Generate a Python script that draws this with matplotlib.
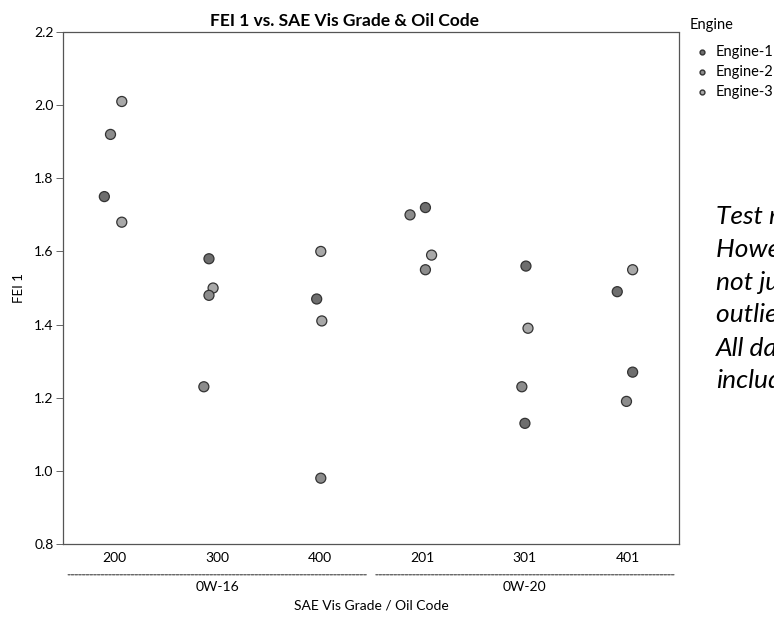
import matplotlib
matplotlib.use("Agg")
import matplotlib.pyplot as plt
import numpy as np

plt.rcParams["font.family"] = ["Lato", "DejaVu Sans"]

# categories and groups
codes = ["200", "300", "400", "201", "301", "401"]
groups = ["0W-16", "0W-20"]
group_of = [0, 0, 0, 1, 1, 1]

# FEI 1 values, 4 per oil code
code_idx = [0, 0, 0, 0, 1, 1, 1, 1, 2, 2, 2, 2,
            3, 3, 3, 3, 4, 4, 4, 4, 5, 5, 5, 5]
fei = [2.01, 1.92, 1.75, 1.68,
       1.58, 1.50, 1.48, 1.23,
       1.60, 1.47, 1.41, 0.98,
       1.70, 1.72, 1.59, 1.55,
       1.56, 1.39, 1.23, 1.13,
       1.55, 1.49, 1.27, 1.19]
engine = [3, 2, 1, 3,
          1, 3, 2, 2,
          3, 1, 3, 2,
          2, 1, 3, 2,
          1, 3, 2, 1,
          3, 1, 1, 2]
# horizontal jitter as seen on the chart
jitter = [0.07, -0.04, -0.10, 0.07,
          -0.08, -0.04, -0.08, -0.13,
          0.01, -0.03, 0.02, 0.01,
          -0.12, 0.03, 0.09, 0.03,
          0.01, 0.03, -0.03, 0.00,
          0.05, -0.10, 0.05, -0.01]

engines = ["Engine-1", "Engine-2", "Engine-3"]
engine_colors = {1: "#6e6e6e", 2: "#8c8c8c", 3: "#a8a8a8"}

fig = plt.figure(figsize=(7.74, 6.18), dpi=100)
ax = fig.add_axes([0.0818, 0.1197, 0.7952, 0.8285])

x = np.array(code_idx) + np.array(jitter)
cols = [engine_colors[e] for e in engine]
ax.scatter(x, fei, s=52, c=cols, edgecolors="#333333", linewidths=0.9, zorder=3)

ax.set_xlim(-0.5, 5.5)
ax.set_ylim(0.8, 2.2)
ax.set_xticks(range(len(codes)))
ax.set_xticklabels(codes, fontsize=10)
yt = np.arange(0.8, 2.21, 0.2)
ax.set_yticks(yt)
ax.set_yticklabels([f"{v:.1f}" for v in yt], fontsize=10)
ax.tick_params(axis="x", length=0, pad=6)
ax.tick_params(axis="y", length=5, width=0.7, color="#666666", pad=2)
for sp in ax.spines.values():
    sp.set_linestyle((0, (1, 1)))
    sp.set_linewidth(0.9)
    sp.set_edgecolor("#555555")

fig.text(344 / 774, 1 - 21 / 618, "FEI 1 vs. SAE Vis Grade & Oil Code",
         fontsize=12.5, fontweight="bold", ha="center", va="center")
ax.set_ylabel("FEI 1", fontsize=9.5)
ax.yaxis.set_label_coords(-0.062, 0.5)

# group brackets under the tick labels
for g, name in enumerate(groups):
    members = [i for i, gi in enumerate(group_of) if gi == g]
    x0 = members[0] - 0.5 + 0.02
    x1 = members[-1] + 0.5 - 0.02
    ax.annotate("", xy=(x0, -0.060), xytext=(x1, -0.060),
                xycoords=("data", "axes fraction"),
                arrowprops=dict(arrowstyle="-", color="#555555", lw=0.9,
                                linestyle=(0, (2, 1))))
    ax.text(np.mean(members), -0.083, name, transform=ax.get_xaxis_transform(),
            ha="center", va="center", fontsize=10)

ax.text(0.5, -0.12, "SAE Vis Grade / Oil Code", transform=ax.transAxes,
        ha="center", va="center", fontsize=10)

# legend
fig.text(690 / 774, 1 - 25 / 618, "Engine", fontsize=10.5, va="center", ha="left")
for k, name in enumerate(engines):
    yy = 1 - (52 + 20 * k) / 618
    fig.text(716 / 774, yy, name, fontsize=10.5, va="center", ha="left")
    fig.lines.append(plt.Line2D([702 / 774], [yy], marker="o", markersize=3.5,
                                color=engine_colors[k + 1], mec="#333333",
                                transform=fig.transFigure))

# note on the right, clipped at the figure edge as in the original
note = ["Test results for all engines.",
        "However, it is",
        "not just one",
        "outlier engine.",
        "All data was",
        "included."]
for k, line in enumerate(note):
    fig.text(716 / 774, 1 - (216 + 33 * k) / 618, line, fontsize=19,
             fontstyle="italic", va="center", ha="left")

fig.savefig("out.png", dpi=100)
